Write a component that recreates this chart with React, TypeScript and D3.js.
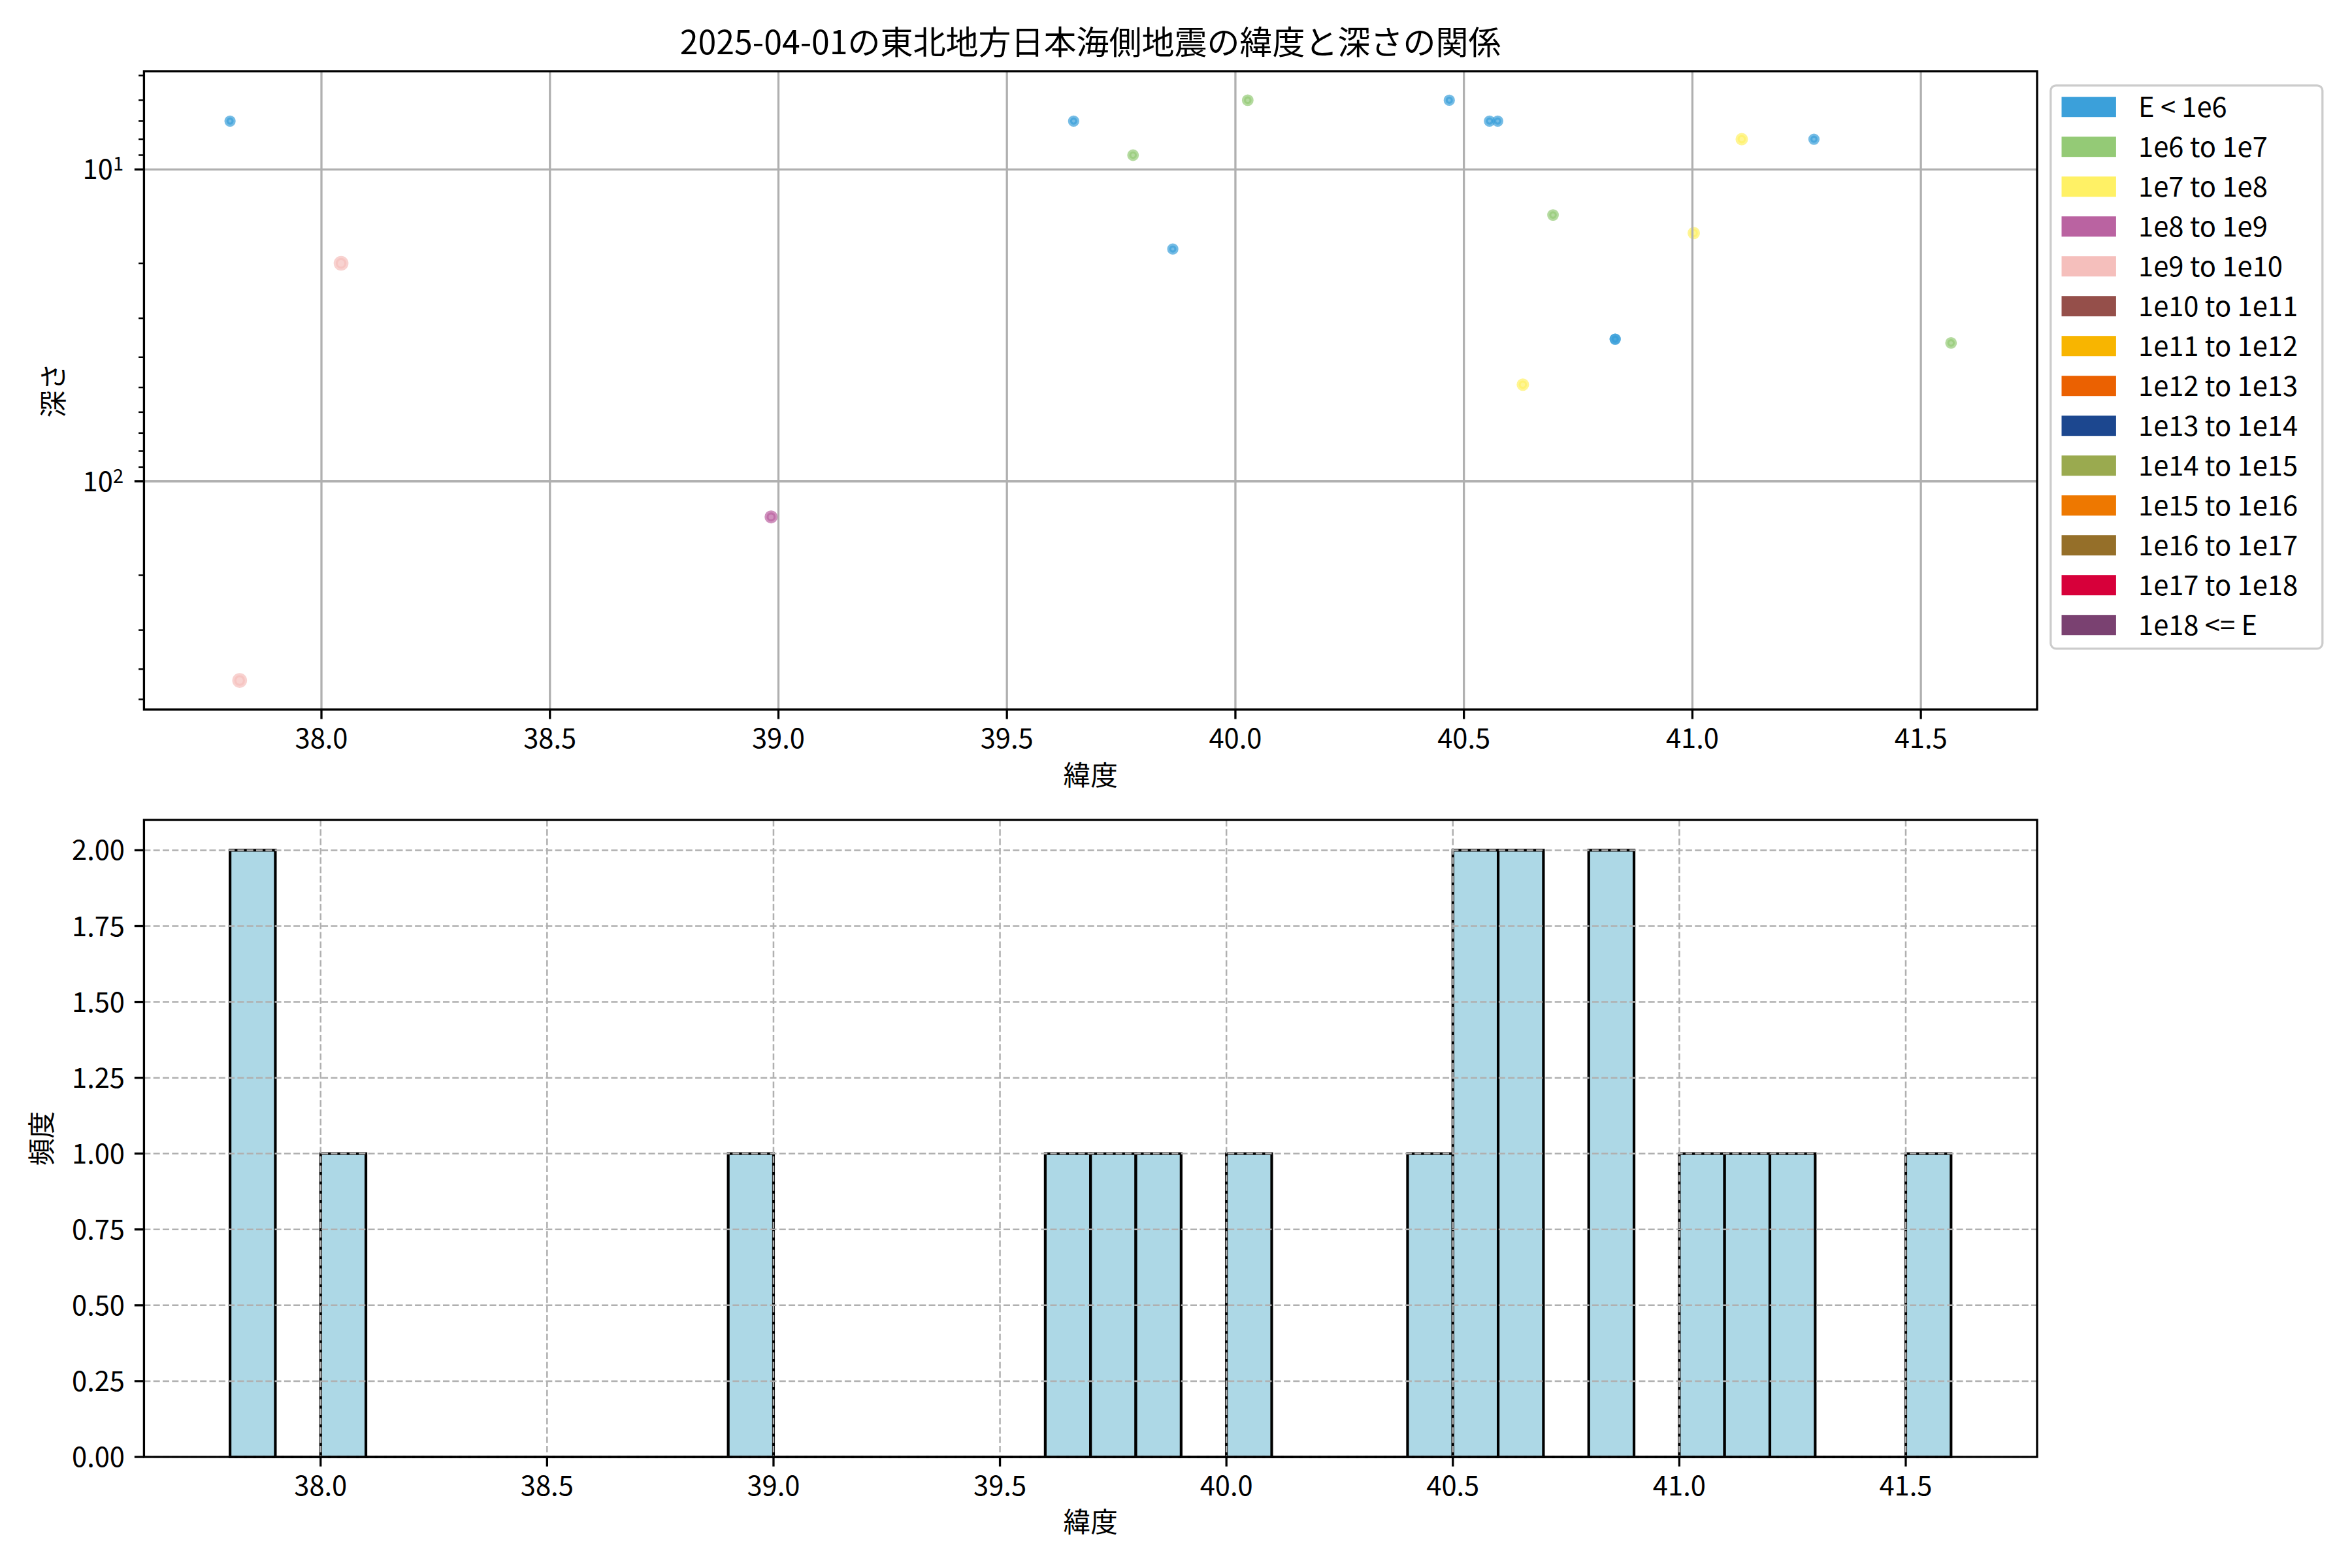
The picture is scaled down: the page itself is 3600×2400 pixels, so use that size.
import React from 'react';
import * as d3 from 'd3';

// ---------- data ----------
const titleText = '2025-04-01の東北地方日本海側地震の緯度と深さの関係';
const xLabelText = '緯度';
const yLabelTop = '深さ';
const yLabelBottom = '頻度';

const classLabels = [
  'E < 1e6', '1e6 to 1e7', '1e7 to 1e8', '1e8 to 1e9', '1e9 to 1e10',
  '1e10 to 1e11', '1e11 to 1e12', '1e12 to 1e13', '1e13 to 1e14',
  '1e14 to 1e15', '1e15 to 1e16', '1e16 to 1e17', '1e17 to 1e18', '1e18 <= E',
];
const classColors = [
  '#3ba0da', '#94ca76', '#fff165', '#ba63a1', '#f5bfbc',
  '#954f4a', '#f8b500', '#eb6101', '#1c478f',
  '#9aaa4f', '#ee7800', '#956f29', '#d7003a', '#7a4171',
];
const classRadius = [5.5, 5.8, 6.4, 6.9, 8.2, 8.8, 9.4, 10, 10.6, 11.2, 11.8, 12.4, 13, 13.6];

const latitudes = [37.80, 38.043, 37.821, 38.984, 39.646, 39.776, 39.863, 40.027, 40.468, 40.556,
  40.574, 40.695, 40.629, 40.831, 40.831, 41.003, 41.108, 41.266, 41.566];
const depths = [7.0, 20, 435, 130, 7.0, 9.0, 18, 6.0, 6.0, 7.0,
  7.0, 14, 49, 35, 35, 16, 8.0, 8.0, 36];
const energyClass = [0, 4, 4, 3, 0, 1, 0, 1, 0, 0,
  0, 1, 2, 0, 0, 2, 2, 0, 1];

const binStart = 37.8;
const binWidth = 0.1;
const binCount = 38;

const xTicks = [38.0, 38.5, 39.0, 39.5, 40.0, 40.5, 41.0, 41.5];
const depthMajorTicks = [10, 100];
const depthMinorTicks = [2, 3, 4, 5, 6, 7, 8, 9, 20, 30, 40, 50, 60, 70, 80, 90, 200, 300, 400, 500, 600, 700, 800, 900];
const histYTicks = [0, 0.25, 0.5, 0.75, 1.0, 1.25, 1.5, 1.75, 2.0];

// ---------- layout ----------
const W = 3600, H = 2400;
const L = 220.4, R = 3118;
const T1 = 109, B1 = 1086;
const T2 = 1255, B2 = 2230;
const FS = 41.7;
const FONT = "'Noto Sans CJK JP', 'Noto Sans', sans-serif";
const SPINE = 3.3;
const GRID = '#b0b0b0';

export default function App() {
  // top scatter scales
  const [latLo, latHi] = d3.extent(latitudes) as [number, number];
  const latPad = (latHi - latLo) * 0.05;
  const xTop = d3.scaleLinear().domain([latLo - latPad, latHi + latPad]).range([L, R]);
  const [dLo, dHi] = d3.extent(depths) as [number, number];
  const lgLo = Math.log10(dLo), lgHi = Math.log10(dHi);
  const lgPad = (lgHi - lgLo) * 0.05;
  const yTop = d3.scaleLog().domain([Math.pow(10, lgLo - lgPad), Math.pow(10, lgHi + lgPad)]).range([T1, B1]);
  const [yDomLo, yDomHi] = yTop.domain();

  // histogram
  const counts = new Array(binCount).fill(0);
  latitudes.forEach((v) => {
    const i = Math.min(binCount - 1, Math.floor((v - binStart) / binWidth + 1e-9));
    counts[i] += 1;
  });
  const binEnd = binStart + binCount * binWidth;
  const hPad = (binEnd - binStart) * 0.05;
  const xBot = d3.scaleLinear().domain([binStart - hPad, binEnd + hPad]).range([L, R]);
  const maxC = d3.max(counts) as number;
  const yBot = d3.scaleLinear().domain([0, maxC * 1.05]).range([B2, T2]);

  const minorInRange = depthMinorTicks.filter((v) => v >= yDomLo && v <= yDomHi);

  const order = d3.range(latitudes.length).sort((a, b) => energyClass[a] - energyClass[b]);

  return (
    <svg width={W} height={H} style={{ position: 'absolute', left: 0, top: 0, background: '#fff' }} fontFamily={FONT}>
      <rect x={0} y={0} width={W} height={H} fill="#fff" />
      {/* title */}
      <text x={(L + R) / 2} y={83} fontSize={50} textAnchor="middle" fill="#000">{titleText}</text>

      {/* ===== top scatter ===== */}
      <g>
        {order.map((i) => {
          const c = classColors[energyClass[i]];
          return (
            <circle key={i} cx={xTop(latitudes[i])} cy={yTop(depths[i])} r={classRadius[energyClass[i]]}
              fill={c} fillOpacity={0.7} stroke={c} strokeOpacity={0.7} strokeWidth={6.25} />
          );
        })}
        {/* grid */}
        {xTicks.map((t) => (
          <line key={'gx' + t} x1={xTop(t)} x2={xTop(t)} y1={T1} y2={B1} stroke={GRID} strokeWidth={3.3} />
        ))}
        {depthMajorTicks.map((t) => (
          <line key={'gy' + t} x1={L} x2={R} y1={yTop(t)} y2={yTop(t)} stroke={GRID} strokeWidth={3.3} />
        ))}
        {/* spines */}
        <rect x={L} y={T1} width={R - L} height={B1 - T1} fill="none" stroke="#000" strokeWidth={SPINE} />
        {/* x ticks */}
        {xTicks.map((t) => (
          <g key={'tx' + t}>
            <line x1={xTop(t)} x2={xTop(t)} y1={B1} y2={B1 + 14.6} stroke="#000" strokeWidth={SPINE} />
            <text x={xTop(t)} y={B1 + 59} fontSize={FS} textAnchor="middle">{t.toFixed(1)}</text>
          </g>
        ))}
        {/* y ticks */}
        {minorInRange.map((t) => (
          <line key={'my' + t} x1={L - 8.3} x2={L} y1={yTop(t)} y2={yTop(t)} stroke="#000" strokeWidth={2.5} />
        ))}
        {depthMajorTicks.map((t) => (
          <g key={'ty' + t}>
            <line x1={L - 14.6} x2={L} y1={yTop(t)} y2={yTop(t)} stroke="#000" strokeWidth={SPINE} />
            <text x={189} y={yTop(t) + 15} fontSize={FS} textAnchor="end">
              <tspan>10</tspan>
              <tspan fontSize={29} dy={-13}>{String(Math.round(Math.log10(t)))}</tspan>
            </text>
          </g>
        ))}
        <text x={(L + R) / 2} y={1202} fontSize={FS} textAnchor="middle">{xLabelText}</text>
        <text transform={`translate(97,${(T1 + B1) / 2}) rotate(-90)`} fontSize={FS} textAnchor="middle">{yLabelTop}</text>
      </g>

      {/* legend */}
      <g>
        <rect x={3138.8} y={130.8} width={416} height={862} rx={8} ry={8} fill="#fff" fillOpacity={0.8}
          stroke="#cccccc" strokeWidth={3.3} />
        {classLabels.map((lab, i) => {
          const cy = 163.7 + i * 61.0;
          return (
            <g key={lab}>
              <rect x={3155.5} y={cy - 15.5} width={83.4} height={31} fill={classColors[i]} />
              <text x={3273} y={cy + 15} fontSize={FS}>{lab}</text>
            </g>
          );
        })}
      </g>

      {/* ===== bottom histogram ===== */}
      <g>
        {counts.map((c, i) => {
          const x0 = xBot(binStart + i * binWidth);
          const x1 = xBot(binStart + (i + 1) * binWidth);
          const y0 = yBot(0), y1 = yBot(c);
          return (
            <path key={'b' + i} d={`M${x0},${y0}V${y1}H${x1}V${y0}Z`} fill="#add8e6" stroke="#000" strokeWidth={4.17} />
          );
        })}
        {xTicks.map((t) => (
          <line key={'hgx' + t} x1={xBot(t)} x2={xBot(t)} y1={T2} y2={B2} stroke={GRID} strokeWidth={2.5} strokeDasharray="10 4.3" />
        ))}
        {histYTicks.map((t) => (
          <line key={'hgy' + t} x1={L} x2={R} y1={yBot(t)} y2={yBot(t)} stroke={GRID} strokeWidth={2.5} strokeDasharray="10 4.3" />
        ))}
        <rect x={L} y={T2} width={R - L} height={B2 - T2} fill="none" stroke="#000" strokeWidth={SPINE} />
        {xTicks.map((t) => (
          <g key={'htx' + t}>
            <line x1={xBot(t)} x2={xBot(t)} y1={B2} y2={B2 + 14.6} stroke="#000" strokeWidth={SPINE} />
            <text x={xBot(t)} y={B2 + 59} fontSize={FS} textAnchor="middle">{t.toFixed(1)}</text>
          </g>
        ))}
        {histYTicks.map((t) => (
          <g key={'hty' + t}>
            <line x1={L - 14.6} x2={L} y1={yBot(t)} y2={yBot(t)} stroke="#000" strokeWidth={SPINE} />
            <text x={191} y={yBot(t) + 15} fontSize={FS} textAnchor="end">{t.toFixed(2)}</text>
          </g>
        ))}
        <text x={(L + R) / 2} y={2345} fontSize={FS} textAnchor="middle">{xLabelText}</text>
        <text transform={`translate(79,${(T2 + B2) / 2}) rotate(-90)`} fontSize={FS} textAnchor="middle">{yLabelBottom}</text>
      </g>
    </svg>
  );
}
